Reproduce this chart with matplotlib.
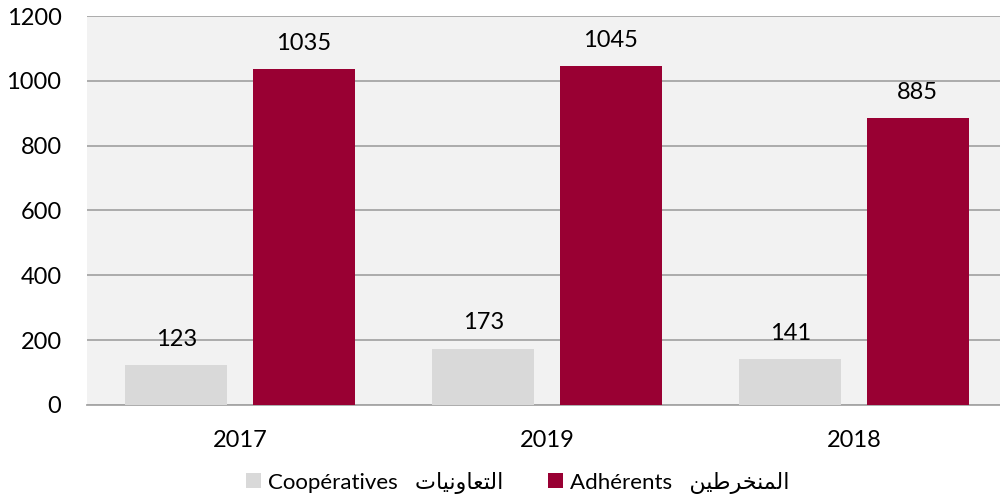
import numpy as np
import matplotlib
matplotlib.use("Agg")
import matplotlib.pyplot as plt

plt.rcParams['font.family'] = ['Lato', 'DejaVu Sans']

years = ["2017", "2019", "2018"]
cooperatives = [123, 173, 141]
adherents = [1035, 1045, 885]

# arabic written in presentation forms, visual order (matplotlib does no shaping)
ar_coop = "\uFE95\uFE8E\uFEF4\uFEE7\uFEED\uFE8E\uFECC\uFE98\uFEDF\uFE8D"
ar_adh = "\uFEE6\uFEF4\uFEC3\uFEAE\uFEA8\uFEE8\uFEE4\uFEDF\uFE8D"
labels = ["Coopératives   " + ar_coop, "Adhérents   " + ar_adh]

fig = plt.figure(figsize=(10, 5.01), dpi=100)
ax = fig.add_axes([0.0865, 0.192, 0.921, 0.776])
ax.set_facecolor("#f2f2f2")

x = np.arange(len(years))
w = 0.332
b1 = ax.bar(x - 0.208, cooperatives, w, color="#d9d9d9", label=labels[0], zorder=3)
b2 = ax.bar(x + 0.208, adherents, w, color="#990033", label=labels[1], zorder=3)

for bars in (b1, b2):
    for r in bars:
        ax.annotate(str(int(r.get_height())), (r.get_x() + r.get_width() / 2, r.get_height()),
                    xytext=(0, 14), textcoords="offset points", ha="center", va="baseline",
                    fontsize=17, zorder=4)

ax.set_ylim(0, 1200)
ax.set_yticks(range(0, 1201, 200))
ax.set_xlim(-0.5, 2.5)
ax.set_xticks(x)
ax.set_xticklabels(years)
ax.yaxis.grid(True, color="#a6a6a6", linewidth=1.3, zorder=0)
ax.set_axisbelow(True)
for s in ["top", "right", "left"]:
    ax.spines[s].set_visible(False)
ax.spines["bottom"].set_color("#a6a6a6")
ax.spines["bottom"].set_linewidth(1.3)
ax.tick_params(axis="both", length=0, labelsize=17)
ax.tick_params(axis="x", pad=18)
ax.tick_params(axis="y", pad=18)

fig.legend(loc="lower center", bbox_to_anchor=(0.518, -0.025), ncol=2, frameon=False,
           fontsize=16, handlelength=0.65, handleheight=0.65, handletextpad=0.35, columnspacing=2.0)

fig.savefig("out.png", dpi=100)
